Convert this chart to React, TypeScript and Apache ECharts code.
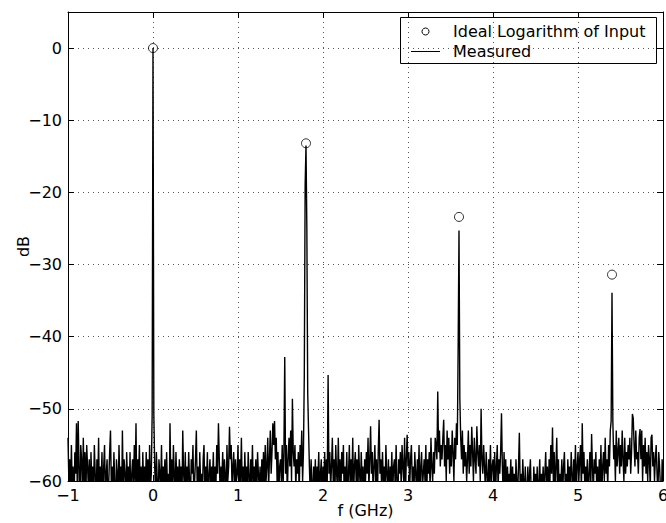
import React, { useEffect, useRef } from "react";
import * as echarts from "echarts";

// x ticks / y ticks
const X_MIN = -1;
const X_MAX = 6;
const Y_MIN = -60;
const Y_MAX = 5;

// Legend labels
const legendIdeal = "Ideal Logarithm of Input";
const legendMeasured = "Measured";

// Ideal logarithm of input (circles)
const idealFreq = [0, 1.8, 3.6, 5.4];
const idealDb = [0, -13.2, -23.4, -31.4];

// Measured spectrum, sampled every 0.01 GHz from -1 GHz to 6 GHz (dB)
const measStart = -1;
const measStep = 0.01;
const measuredDb = [
  -54, -60, -57, -63, -55, -61, -58, -66, -56, -59, // -1.0
  -52, -62, -51.7, -58, -64, -55, -57, -62, -54, -60, // -0.9
  -56, -63, -55, -58, -61, -57, -65, -56, -60, -58, // -0.8
  -62, -55, -59, -64, -57, -61, -54, -63, -58, -60, // -0.7
  -56, -65, -58, -55, -62, -59, -57, -64, -60, -56, // -0.6
  -53, -61, -58, -63, -56, -60, -66, -57, -59, -62, // -0.5
  -55, -60, -58, -64, -53, -61, -57, -59, -63, -56, // -0.4
  -60, -58, -62, -56, -65, -59, -57, -61, -55, -60, // -0.3
  -52, -63, -57, -60, -55, -62, -58, -64, -56, -61, // -0.2
  -58, -62, -56, -60, -57, -63, -55, -61, -59, -50.8, // -0.1
  0, -50.8, -58, -62, -56, -60, -64, -57, -59, -61, // 0.0
  -55, -62, -58, -60, -57, -63, -56, -61, -59, -64, // 0.1
  -52, -60, -57, -63, -55, -59, -62, -56, -60, -58, // 0.2
  -62, -57, -60, -58, -64, -53, -59, -61, -56, -63, // 0.3
  -58, -61, -56, -60, -63, -57, -59, -55, -62, -60, // 0.4
  -57, -53, -61, -58, -64, -56, -60, -59, -63, -57, // 0.5
  -55, -62, -58, -60, -56, -65, -59, -57, -61, -58, // 0.6
  -60, -56, -63, -58, -61, -55, -59, -52, -57, -62, // 0.7
  -58, -60, -56, -62, -57, -59, -64, -55, -60, -58, // 0.8
  -52.5, -57, -55, -61, -58, -56, -63, -57, -60, -59, // 0.9
  -55, -62, -57, -60, -54, -61, -58, -63, -56, -60, // 1.0
  -58, -62, -56, -59, -64, -57, -60, -55, -61, -58, // 1.1
  -60, -57, -63, -56, -59, -61, -58, -65, -57, -60, // 1.2
  -56, -62, -55, -60, -58, -54, -61, -57, -53, -59, // 1.3
  -56, -52, -55, -51.7, -57, -54, -60, -56, -62, -58, // 1.4
  -57, -60, -55, -61, -56, -42.8, -59, -55, -62, -57, // 1.5
  -54, -58, -53, -60, -48.6, -56, -58, -55, -61, -57, // 1.6
  -59, -56, -62, -55, -58, -53, -60, -56, -45.4, -19, // 1.7
  -13.5, -25, -47.7, -53, -58, -62, -57, -60, -64, -58, // 1.8
  -61, -57, -63, -58, -60, -56, -62, -59, -57, -64, // 1.9
  -58, -60, -56, -62, -57, -60, -45.3, -59, -56, -61, // 2.0
  -58, -54, -60, -57, -62, -55, -59, -61, -54, -60, // 2.1
  -57, -62, -56, -59, -55, -63, -58, -60, -56, -62, // 2.2
  -59, -55, -61, -57, -60, -54, -62, -58, -56, -60, // 2.3
  -57, -63, -55, -59, -61, -56, -60, -58, -64, -57, // 2.4
  -60, -56, -59, -54, -61, -57, -52.4, -59, -56, -62, // 2.5
  -58, -55, -60, -57, -63, -56, -51.5, -59, -57, -61, // 2.6
  -56, -60, -58, -62, -55, -59, -61, -57, -64, -58, // 2.7
  -60, -56, -62, -58, -57, -61, -55, -60, -63, -57, // 2.8
  -59, -56, -61, -55, -58, -60, -54, -62, -57, -53.6, // 2.9
  -58, -56, -61, -57, -55, -60, -58, -62, -56, -59, // 3.0
  -61, -57, -60, -55, -63, -58, -56, -61, -59, -57, // 3.1
  -60, -55, -62, -57, -59, -56, -61, -54, -58, -60, // 3.2
  -56, -59, -54, -55, -57, -47.6, -56, -53, -58, -55, // 3.3
  -57, -54, -51.5, -58, -55, -60, -53, -57, -54, -59, // 3.4
  -55, -58, -53, -56, -60, -54, -57, -52, -55, -41.5, // 3.5
  -25.3, -48.6, -54, -57, -53, -59, -55, -58, -56, -60, // 3.6
  -57, -53, -59, -55, -58, -52.5, -56, -60, -54, -57, // 3.7
  -59, -52.4, -56, -58, -55, -60, -50, -57, -59, -55, // 3.8
  -58, -61, -56, -59, -62, -57, -60, -55, -61, -58, // 3.9
  -57, -60, -56, -62, -58, -55, -61, -57, -59, -56, // 4.0
  -50.6, -58, -62, -56, -60, -57, -63, -58, -61, -59, // 4.1
  -60, -57, -63, -58, -61, -59, -64, -57, -60, -62, // 4.2
  -58, -53.3, -61, -59, -63, -57, -60, -62, -58, -64, // 4.3
  -61, -58, -63, -59, -57, -62, -60, -64, -58, -61, // 4.4
  -59, -62, -58, -64, -60, -57, -63, -59, -61, -58, // 4.5
  -62, -59, -56, -61, -58, -63, -57, -60, -55, -59, // 4.6
  -52.6, -60, -56, -62, -58, -54, -61, -57, -63, -59, // 4.7
  -60, -57, -62, -58, -56, -61, -59, -64, -57, -60, // 4.8
  -58, -61, -56, -59, -63, -57, -60, -55, -62, -58, // 4.9
  -56, -60, -57, -55, -62, -52, -59, -56, -61, -58, // 5.0
  -60, -57, -63, -59, -56, -61, -53.5, -58, -62, -57, // 5.1
  -59, -56, -61, -58, -63, -57, -60, -55, -62, -58, // 5.2
  -56, -60, -54, -59, -57, -61, -55, -58, -53, -51.7, // 5.3
  -33.9, -51.7, -57, -55, -60, -53, -58, -56, -54, -59, // 5.4
  -55, -58, -53, -57, -60, -54, -59, -56, -58, -55, // 5.5
  -57, -54, -59, -56, -50.7, -51.3, -55, -58, -53, -57, // 5.6
  -56, -59, -54, -52.8, -57, -53, -60, -55, -58, -54, // 5.7
  -59, -56, -60, -55, -57, -61, -54, -53.6, -58, -56, // 5.8
  -60, -57, -55, -59, -62, -56, -58, -61, -64, -57, // 5.9
  -60, // 6.0
];

const FONT = "'DejaVu Sans', sans-serif";
const minus = (v: number) => (v < 0 ? "\u2212" + Math.abs(v) : String(v));

export default function App() {
  const ref = useRef<HTMLDivElement>(null);
  useEffect(() => {
    document.body.style.margin = "0";
    if (!ref.current) return;
    const chart = echarts.init(ref.current, undefined, { renderer: "svg" });
    const measured = measuredDb.map((v, i) => [
      +(measStart + i * measStep).toFixed(2),
      v,
    ]);
    const ideal = idealFreq.map((f, i) => [f, idealDb[i]]);
    const axisCommon = {
      axisLine: { onZero: false, lineStyle: { color: "#000", width: 1 } },
      axisTick: { inside: true, length: 6, lineStyle: { color: "#000" } },
    };
    const textStyle = { color: "#000", fontSize: 16, fontFamily: FONT };
    chart.setOption({
      animation: false,
      backgroundColor: "#fff",
      grid: {
        left: 68,
        right: 3,
        top: 12,
        bottom: 42,
        containLabel: false,
        outerBoundsMode: "none",
      },
      graphic: [
        {
          type: "group",
          left: 400,
          top: 17,
          z: 100,
          children: [
            {
              type: "rect",
              shape: { x: 0.5, y: 0.5, width: 256, height: 46 },
              style: { fill: "#fff", stroke: "#000", lineWidth: 1 },
            },
            {
              type: "circle",
              shape: { cx: 25.5, cy: 14.5, r: 3.5 },
              style: { fill: "none", stroke: "#000", lineWidth: 1 },
            },
            {
              type: "line",
              shape: { x1: 11, y1: 34.5, x2: 40, y2: 34.5 },
              style: { stroke: "#000", lineWidth: 1 },
            },
            {
              type: "text",
              x: 53,
              y: 14.5,
              style: {
                text: legendIdeal,
                fill: "#000",
                font: "16px 'DejaVu Sans', sans-serif",
                verticalAlign: "middle",
              },
            },
            {
              type: "text",
              x: 53,
              y: 34.5,
              style: {
                text: legendMeasured,
                fill: "#000",
                font: "16px 'DejaVu Sans', sans-serif",
                verticalAlign: "middle",
              },
            },
          ],
        },
      ],
      xAxis: [
        {
          type: "value",
          min: X_MIN,
          max: X_MAX,
          interval: 1,
          position: "bottom",
          ...axisCommon,
          axisLabel: { ...textStyle, margin: 6, formatter: minus },
          splitLine: { show: true, lineStyle: { color: "#555", type: [1, 4], width: 1 } },
          name: "f (GHz)",
          nameLocation: "middle",
          nameGap: 21,
          nameMoveOverlap: false,
          nameTextStyle: textStyle,
        },
        {
          type: "value",
          min: X_MIN,
          max: X_MAX,
          interval: 1,
          position: "top",
          ...axisCommon,
          axisLabel: { show: false },
          splitLine: { show: false },
        },
      ],
      yAxis: [
        {
          type: "value",
          min: Y_MIN,
          max: Y_MAX,
          interval: 10,
          position: "left",
          ...axisCommon,
          axisLabel: {
            ...textStyle,
            margin: 6,
            formatter: (v: number) => (v > 0 ? "" : minus(v)),
          },
          splitLine: { show: true, lineStyle: { color: "#555", type: [1, 4], width: 1 } },
          name: "dB",
          nameLocation: "middle",
          nameGap: 37,
          nameMoveOverlap: false,
          nameTextStyle: textStyle,
        },
        {
          type: "value",
          min: Y_MIN,
          max: Y_MAX,
          interval: 10,
          position: "right",
          ...axisCommon,
          axisLabel: { show: false },
          splitLine: { show: false },
        },
      ],
      series: [
        {
          name: legendMeasured,
          type: "line",
          data: measured,
          symbol: "none",
          showSymbol: false,
          clip: true,
          lineStyle: { color: "#000", width: 1.4 },
          itemStyle: { color: "#000" },
          z: 2,
        },
        {
          name: legendIdeal,
          type: "scatter",
          data: ideal,
          symbol: "circle",
          symbolSize: 9,
          itemStyle: { color: "rgba(255,255,255,0)", borderColor: "#000", borderWidth: 1 },
          z: 3,
        },
      ],
    });
    return () => chart.dispose();
  }, []);
  return <div ref={ref} style={{ width: 666, height: 523 }} />;
}
